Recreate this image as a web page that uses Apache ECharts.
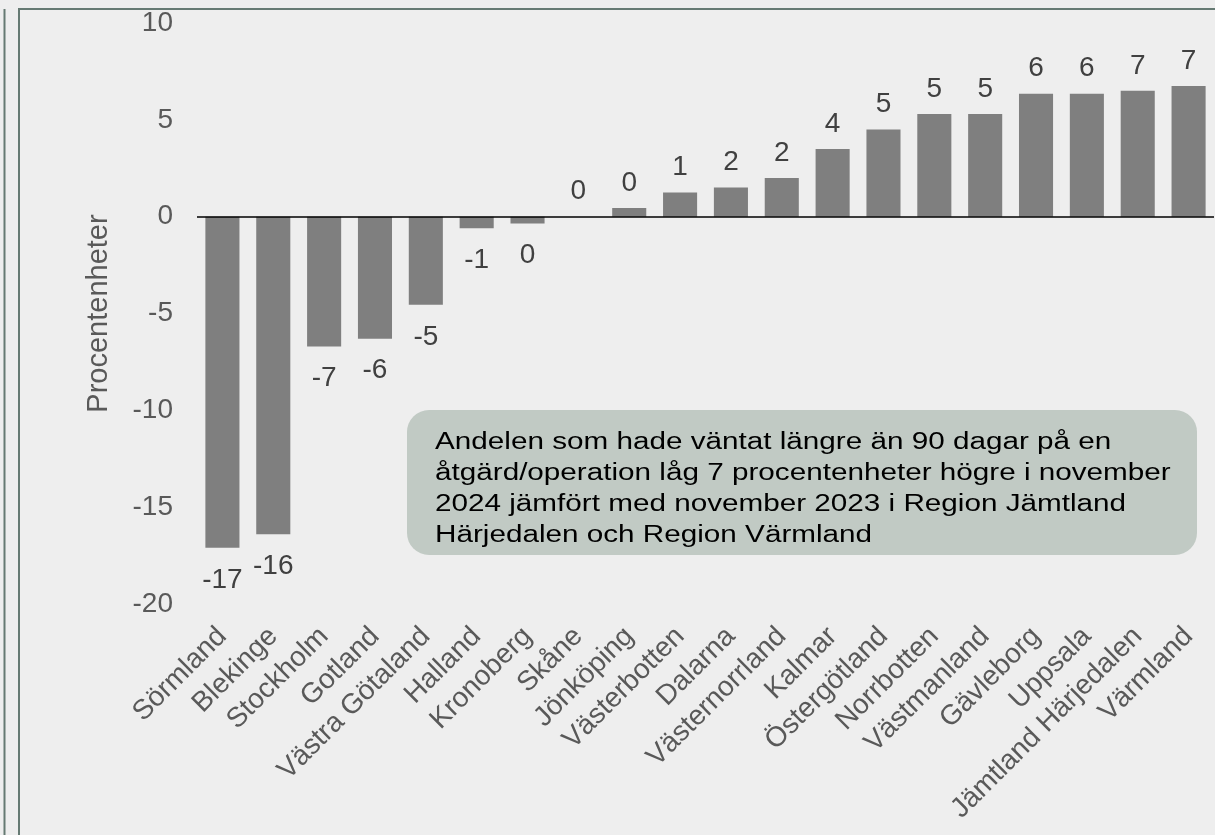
<!DOCTYPE html>
<html>
<head>
<meta charset="utf-8">
<script src="https://cdn.jsdelivr.net/npm/echarts@6/dist/echarts.min.js"></script>
<style>
html,body{margin:0;padding:0;background:#eeeeee;}
#c{width:1215px;height:835px;}
</style>
</head>
<body>
<div id="c"></div>
<script>
const categories = ["Sörmland","Blekinge","Stockholm","Gotland","Västra Götaland","Halland","Kronoberg","Skåne","Jönköping","Västerbotten","Dalarna","Västernorrland","Kalmar","Östergötland","Norrbotten","Västmanland","Gävleborg","Uppsala","Jämtland Härjedalen","Värmland"];
const values = [-17.1,-16.4,-6.7,-6.3,-4.55,-0.6,-0.35,0,0.45,1.25,1.5,2.0,3.5,4.5,5.3,5.3,6.35,6.35,6.5,6.75];
const yTicks = {min:-20, max:10, interval:5};
const yTitle = "Procentenheter";
const noteLines = ["Andelen som hade väntat längre än 90 dagar på en","åtgärd/operation låg 7 procentenheter högre i november","2024 jämfört med november 2023 i Region Jämtland","Härjedalen och Region Värmland"];

const font = "'Liberation Sans', Arial, sans-serif";
const chart = echarts.init(document.getElementById('c'));
chart.setOption({
  backgroundColor:'#eeeeee',
  animation:false,
  grid:{left:197,right:1,top:23,bottom:231},
  xAxis:{
    type:'category', data:categories,
    axisLine:{show:false,onZero:false}, axisTick:{show:false},
    axisLabel:{rotate:45, interval:0, margin:28, fontSize:28, color:'#595959', fontFamily:font}
  },
  yAxis:{
    type:'value', min:yTicks.min, max:yTicks.max, interval:yTicks.interval,
    splitLine:{show:false}, axisLine:{show:false}, axisTick:{show:false},
    axisLabel:{fontSize:28, color:'#595959', fontFamily:font, margin:24},
    name:yTitle, nameLocation:'middle', nameGap:84, nameRotate:90,
    nameTextStyle:{fontSize:29, color:'#595959', fontFamily:font}
  },
  series:[{
    type:'bar', barWidth:'67%',
    itemStyle:{color:'#7f7f7f'},
    data: values.map(v => ({value:v, label:{position: v<0?'bottom':'top', distance: v<0?18:11}})),
    label:{show:true, fontSize:28, color:'#404040', fontFamily:font,
      formatter: p => String(Math.round(p.value) || 0)},
    markLine:{silent:true, symbol:'none', label:{show:false},
      lineStyle:{color:'#000', width:1.5, type:'solid'}, data:[{yAxis:0}]}
  }],
  graphic:[
    {type:'line', shape:{x1:4.5,y1:9,x2:4.5,y2:835}, style:{stroke:'#667a73', lineWidth:2}},
    {type:'rect', shape:{x:19,y:9,width:1300,height:900}, style:{fill:'none', stroke:'#667a73', lineWidth:2}},
    {type:'rect', shape:{x:407,y:410,width:790,height:145,r:22}, style:{fill:'#c1cac4'}},
    {type:'text', x:435, y:427, scaleX:1.29, style:{text:noteLines.join('\n'), font:'23px '+font, lineHeight:31, fill:'#000'}}
  ]
});
</script>
</body>
</html>
